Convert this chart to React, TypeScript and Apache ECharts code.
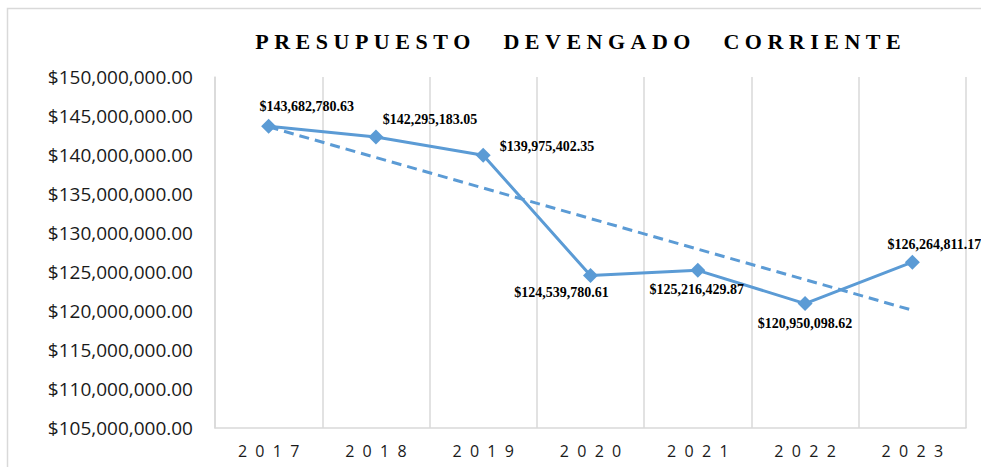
import React, { useEffect, useRef } from "react";
import * as echarts from "echarts";

const titleText = "PRESUPUESTO DEVENGADO CORRIENTE";
const years = ["2017", "2018", "2019", "2020", "2021", "2022", "2023"];
const budget = [
  143682780.63, 142295183.05, 139975402.35, 124539780.61, 125216429.87,
  120950098.62, 126264811.17,
];
// Linear trendline end points
const trend = [143600000, "-", "-", "-", "-", "-", 120100000];

const yMin = 105000000;
const yMax = 150000000;
const yStep = 5000000;

const NB = "\u00a0";

const labelPlacement: { position: string; offset: number[] }[] = [
  { position: "top", offset: [38, 0] },
  { position: "top", offset: [54, 2] },
  { position: "right", offset: [4, -9] },
  { position: "bottom", offset: [-29, -3] },
  { position: "bottom", offset: [-1, 0] },
  { position: "bottom", offset: [0, 0] },
  { position: "top", offset: [22, 2] },
];

const money = (v: number) =>
  "$" +
  v.toLocaleString("en-US", {
    minimumFractionDigits: 2,
    maximumFractionDigits: 2,
  });

export default function App() {
  const ref = useRef<HTMLDivElement>(null);
  useEffect(() => {
    if (!ref.current) return;
    const chart = echarts.init(ref.current, null, { renderer: "svg" });
    const spacedTitle = titleText
      .split(" ")
      .map((w) => w.split("").join(NB))
      .join(NB.repeat(6));
    chart.setOption({
      animation: false,
      backgroundColor: "#ffffff",
      graphic: [
        {
          type: "rect",
          shape: { x: 7.5, y: 8.5, width: 1200, height: 1200 },
          style: { fill: "none", stroke: "#d9d9d9", lineWidth: 1.5 },
          silent: true,
        },
        {
          type: "text",
          x: 578,
          y: 41,
          style: {
            text: spacedTitle,
            font: "bold 22px 'Liberation Serif'",
            fill: "#000000",
            textAlign: "center",
            textVerticalAlign: "middle",
          },
        },
      ],
      grid: { left: 215, right: 15, top: 77, bottom: 39, containLabel: false },
      xAxis: {
        type: "category",
        data: years,
        boundaryGap: true,
        axisLine: { show: true, lineStyle: { color: "#d9d9d9", width: 1.5 } },
        axisTick: { show: false },
        splitLine: { show: true, lineStyle: { color: "#d9d9d9", width: 1.5 } },
        axisLabel: {
          margin: 15,
          fontFamily: "'Open Sans'",
          fontSize: 16,
          color: "#1a1a1a",
          formatter: (v: string) => v.split("").join(NB + NB),
        },
      },
      yAxis: {
        type: "value",
        min: yMin,
        max: yMax,
        interval: yStep,
        axisLine: { show: true, lineStyle: { color: "#d9d9d9", width: 1.5 } },
        axisTick: { show: false },
        splitLine: { show: false },
        axisLabel: {
          margin: 22,
          fontFamily: "'Open Sans'",
          fontSize: 19,
          color: "#1a1a1a",
          formatter: (v: number) => money(v),
        },
      },
      series: [
        {
          name: "Tendencia",
          type: "line",
          data: trend,
          connectNulls: true,
          symbol: "none",
          z: 2,
          lineStyle: { color: "#5b9bd5", width: 3, type: [10, 6] },
        },
        {
          name: "Presupuesto",
          type: "line",
          data: budget.map((v, i) => ({
            value: v,
            label: {
              position: labelPlacement[i].position,
              offset: labelPlacement[i].offset,
            },
          })),
          symbol: "diamond",
          symbolSize: 15,
          z: 3,
          itemStyle: { color: "#5b9bd5" },
          lineStyle: { color: "#5b9bd5", width: 3 },
          label: {
            show: true,
            fontFamily: "'Liberation Serif'",
            fontWeight: "bold",
            fontSize: 14,
            color: "#000000",
            formatter: (p: any) => money(p.value),
          },
        },
      ],
    });
    return () => chart.dispose();
  }, []);
  return (
    <div
      ref={ref}
      style={{ position: "fixed", left: 0, top: 0, width: 981, height: 467 }}
    />
  );
}
